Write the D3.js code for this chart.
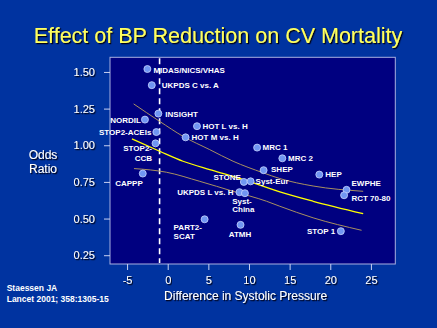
<!DOCTYPE html>
<html>
<head>
<meta charset="utf-8">
<script src="https://cdn.jsdelivr.net/npm/d3@7"></script>
<style>
  html, body { margin: 0; padding: 0; background: #0033a0; }
  svg { display: block; }
  text { font-family: "Liberation Sans", Arial, Helvetica, sans-serif; }
</style>
</head>
<body>
<svg id="chart" width="437" height="328"></svg>
<script>
// ---- data ----
const studies = ["MIDAS/NICS/VHAS", "UKPDS C vs. A", "INSIGHT", "NORDIL", "HOT L vs. H",
  "STOP2-ACEIs", "HOT M vs. H", "STOP2-CCB", "CAPPP", "STONE", "Syst-Eur", "UKPDS L vs. H",
  "Syst-China", "PART2-SCAT", "ATMH", "MRC 1", "MRC 2", "SHEP", "HEP", "EWPHE", "RCT 70-80", "STOP 1"];
const sbpDifference = [-2.5, -1.96, -1.15, -2.8, 3.6, -1.4, 2.2, -1.5, -3.07, 9.37, 10.2, 8.83,
  9.5, 4.54, 8.96, 11.0, 14.1, 11.8, 18.65, 22.0, 21.7, 21.3];
const oddsRatio = [1.52, 1.41, 1.216, 1.175, 1.13, 1.09, 1.054, 1.013, 0.807, 0.75, 0.754, 0.68,
  0.673, 0.495, 0.457, 0.984, 0.911, 0.83, 0.80, 0.696, 0.659, 0.414];

const fitX = [-4.4, -0.99, 1.88, 5.17, 8.04, 10.1, 13.8, 17.9, 24.05];
const fitY = [1.043, 0.959, 0.891, 0.834, 0.788, 0.752, 0.682, 0.618, 0.534];
const upperX = [-4.19, -0.99, 1.88, 5.17, 8.04, 11.74, 13.79, 17.89, 24.05];
const upperY = [1.282, 1.163, 1.061, 0.970, 0.891, 0.812, 0.773, 0.722, 0.686];
const lowerX = [-4.15, -0.16, 3.94, 8.04, 12.16, 13.79, 17.89, 23.85];
const lowerY = [0.841, 0.816, 0.754, 0.686, 0.618, 0.584, 0.505, 0.420];

const xTicks = [-5, 0, 5, 10, 15, 20, 25];
const yTicks = [0.25, 0.50, 0.75, 1.00, 1.25, 1.50];
const referenceX = -1;

const titleText = "Effect of BP Reduction on CV Mortality";
const xTitle = "Difference in Systolic Pressure";
const yTitle = ["Odds", "Ratio"];
const sourceLines = ["Staessen JA", "Lancet 2001; 358:1305-15"];

// ---- label layout (anchor, dx, dy per line) ----
const labelLayout = {
  "MIDAS/NICS/VHAS": {a: "start", dx: 6, dy: [3.5]},
  "UKPDS C vs. A": {a: "start", dx: 10, dy: [3]},
  "INSIGHT": {a: "start", dx: 7, dy: [3]},
  "NORDIL": {a: "end", dx: -4, dy: [3]},
  "HOT L vs. H": {a: "start", dx: 5.5, dy: [3]},
  "STOP2-ACEIs": {a: "end", dx: -5, dy: [3]},
  "HOT M vs. H": {a: "start", dx: 6, dy: [3]},
  "STOP2-CCB": {a: "end", dx: -3.5, dy: [8, 17.3], lines: ["STOP2-", "CCB"]},
  "CAPPP": {a: "end", dx: 0, dy: [12]},
  "STONE": {a: "end", dx: -3, dy: [-2.3]},
  "Syst-Eur": {a: "start", dx: 5, dy: [2.7]},
  "UKPDS L vs. H": {a: "end", dx: -6, dy: [2.8]},
  "Syst-China": {a: "start", dx: -12.7, dy: [10.6, 18.5], lines: ["Syst-", "China"]},
  "PART2-SCAT": {a: "start", dx: -31, dy: [10.3, 19.6], lines: ["PART2-", "SCAT"]},
  "ATMH": {a: "middle", dx: -0.5, dy: [12]},
  "MRC 1": {a: "start", dx: 5.5, dy: [2.7]},
  "MRC 2": {a: "start", dx: 5.7, dy: [2.7]},
  "SHEP": {a: "start", dx: 7.4, dy: [2.2]},
  "HEP": {a: "start", dx: 6, dy: [2.4]},
  "EWPHE": {a: "start", dx: 5, dy: [-4.3]},
  "RCT 70-80": {a: "start", dx: 7.3, dy: [6]},
  "STOP 1": {a: "end", dx: -5.7, dy: [2.4]}
};

// ---- drawing ----
const svg = d3.select("#chart");
const plot = {left: 110, right: 395.3, top: 57.3, bottom: 264};

const x = d3.scaleLinear().domain([-7.1, 28]).range([plot.left, plot.right]);
const y = d3.scaleLinear().domain([0.19, 1.6]).range([plot.bottom, plot.top]);

svg.append("rect").attr("width", 437).attr("height", 328).attr("fill", "#0033a0");

// shadow filter
const defs = svg.append("defs");
const f = defs.append("filter").attr("id", "shadow").attr("x", "-5%").attr("y", "-20%").attr("width", "110%").attr("height", "140%");
f.append("feDropShadow").attr("dx", 1.2).attr("dy", 1.2).attr("stdDeviation", 0.2).attr("flood-color", "#000018").attr("flood-opacity", 1);

// title
svg.append("text").attr("x", 218).attr("y", 42.5).attr("text-anchor", "middle")
  .attr("font-size", 21.5).attr("fill", "#ffff5e").attr("filter", "url(#shadow)").text(titleText);

// plot area
svg.append("rect").attr("x", plot.left).attr("y", plot.top)
  .attr("width", plot.right - plot.left).attr("height", plot.bottom - plot.top)
  .attr("fill", "#000080").attr("stroke", "#a8b0e0").attr("stroke-width", 1);

// axes
const yAxis = d3.axisLeft(y).tickValues(yTicks).tickFormat(d3.format(".2f")).tickSize(6).tickPadding(9);
const gy = svg.append("g").attr("transform", `translate(${plot.left},0)`).call(yAxis);
gy.select(".domain").remove();
gy.selectAll(".tick line").attr("stroke", "#c8d0f0");
gy.selectAll(".tick text").attr("fill", "#ffffff").attr("font-size", 11)
  .attr("font-family", "Liberation Sans, Arial, sans-serif").attr("filter", "url(#shadow)");

const xAxis = d3.axisBottom(x).tickValues(xTicks).tickFormat(d => String(d)).tickSize(6).tickPadding(6);
const gx = svg.append("g").attr("transform", `translate(0,${plot.bottom})`).call(xAxis);
gx.select(".domain").remove();
gx.selectAll(".tick line").attr("stroke", "#c8d0f0");
gx.selectAll(".tick text").attr("fill", "#ffffff").attr("font-size", 11)
  .attr("font-family", "Liberation Sans, Arial, sans-serif").attr("filter", "url(#shadow)");

// axis titles
svg.append("text").attr("x", 245.7).attr("y", 299.5).attr("text-anchor", "middle")
  .attr("font-size", 12).attr("fill", "#ffffff").attr("filter", "url(#shadow)").text(xTitle);
svg.append("text").attr("text-anchor", "middle").attr("font-size", 12).attr("fill", "#ffffff")
  .attr("filter", "url(#shadow)")
  .selectAll("tspan").data(yTitle).join("tspan")
  .attr("x", 43).attr("y", (d, i) => 159 + i * 13.7).text(d => d);

// source
svg.append("text").attr("font-size", 8.5).attr("font-weight", "bold").attr("fill", "#ffffff")
  .selectAll("tspan").data(sourceLines).join("tspan")
  .attr("x", 6.7).attr("y", (d, i) => 290.7 + i * 11).text(d => d);

// reference dashed line
svg.append("line").attr("x1", x(referenceX)).attr("x2", x(referenceX))
  .attr("y1", plot.top + 1).attr("y2", plot.bottom - 1)
  .attr("stroke", "#ffffff").attr("stroke-width", 1.6).attr("stroke-dasharray", "6,4");

// curves
const line = d3.line().x(d => x(d[0])).y(d => y(d[1])).curve(d3.curveMonotoneX);
const zip = (a, b) => a.map((v, i) => [v, b[i]]);
svg.append("path").attr("d", line(zip(upperX, upperY))).attr("fill", "none")
  .attr("stroke", "#a89060").attr("stroke-width", 1);
svg.append("path").attr("d", line(zip(lowerX, lowerY))).attr("fill", "none")
  .attr("stroke", "#a89060").attr("stroke-width", 1);
svg.append("path").attr("d", line(zip(fitX, fitY))).attr("fill", "none")
  .attr("stroke", "#ffff00").attr("stroke-width", 1.3);

// points
const pts = studies.map((s, i) => ({name: s, x: sbpDifference[i], y: oddsRatio[i]}));
svg.append("g").selectAll("circle").data(pts).join("circle")
  .attr("cx", d => x(d.x)).attr("cy", d => y(d.y)).attr("r", 3.5)
  .attr("fill", "#7096f2").attr("stroke", "#c8d4ff").attr("stroke-width", 0.8);

// labels
const lg = svg.append("g").attr("font-size", 8).attr("font-weight", "bold").attr("fill", "#ffffff");
pts.forEach(d => {
  const L = labelLayout[d.name];
  const lines = L.lines || [d.name];
  const t = lg.append("text").attr("text-anchor", L.a);
  lines.forEach((ln, j) => {
    t.append("tspan").attr("x", x(d.x) + L.dx).attr("y", y(d.y) + L.dy[j]).text(ln);
  });
});
</script>
</body>
</html>
